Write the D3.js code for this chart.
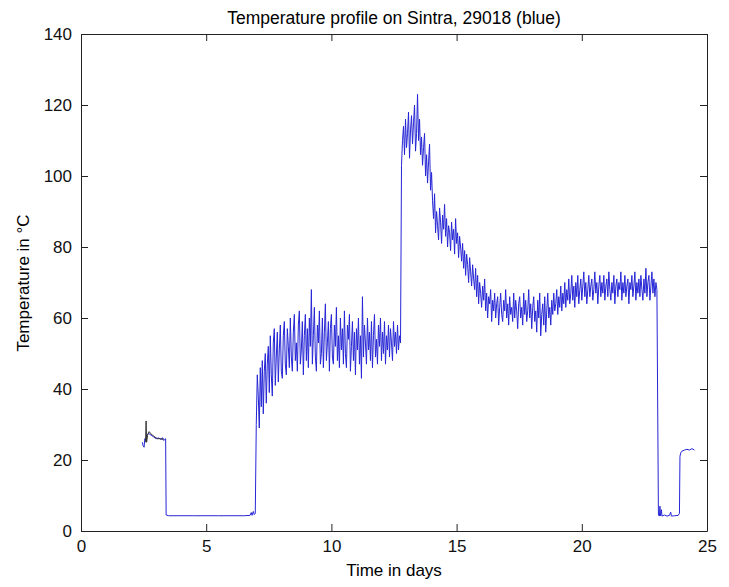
<!DOCTYPE html>
<html>
<head>
<meta charset="utf-8">
<script src="https://cdn.jsdelivr.net/npm/d3@7"></script>
<style>
  body { margin: 0; background: #fff; }
  text { font-family: "Liberation Sans", Arial, sans-serif; }
</style>
</head>
<body>
<script>
let width = 729;
let height = 587;

// axis ranges + ticks
let xTicks = [0, 5, 10, 15, 20, 25];
let yTicks = [0, 20, 40, 60, 80, 100, 120, 140];

// warm-up bit before the long cold plateau (days, degC)
let startBlue = [
  [2.45, 25], [2.48, 24], [2.52, 23.6], [2.55, 26], [2.58, 25.5],
  [2.62, 27], [2.7, 27.5], [2.8, 27], [2.9, 26.5], [3.0, 26],
  [3.1, 26.2], [3.2, 25.8], [3.25, 26.3], [3.3, 25.5], [3.38, 26],
  [3.4, 4.5], [3.5, 4.3], [4.5, 4.3], [5.5, 4.3], [6.5, 4.3],
  [6.75, 4.4], [6.8, 5.2], [6.83, 4.4], [6.88, 5.5], [6.92, 4.6], [6.96, 5]
];

// second sensor trace (black), only visible at the start
let startBlack = [
  [2.58, 25], [2.6, 31], [2.62, 25], [2.66, 27], [2.72, 28], [2.78, 27.5],
  [2.85, 27], [2.95, 26.5], [3.05, 26], [3.15, 26], [3.25, 25.8], [3.3, 26]
];

// main run, one reading every runStep days from runStart
let runStart = 7.0;
let runStep = 0.04;
let runTemps = [
  // 7.0 - 12.76 d
  30, 44, 38, 29, 46, 35, 48, 33, 45, 50,
  36, 47, 52, 39, 55, 44, 38, 53, 57, 41,
  49, 56, 42, 51, 58, 45, 43, 55, 59, 47,
  44, 57, 52, 46, 60, 49, 45, 56, 61, 48,
  53, 45, 58, 62, 47, 51, 59, 44, 55, 61,
  48, 57, 46, 60, 52, 68, 47, 55, 63, 49,
  45, 58, 53, 62, 47, 50, 60, 46, 56, 64,
  48, 53, 59, 45, 57, 61, 49, 47, 58, 52,
  63, 48, 55, 46, 60, 51, 57, 47, 62, 50,
  46, 58, 54, 61, 45, 52, 59, 48, 56, 44,
  57, 51, 60, 47, 55, 43, 66, 49, 58, 53,
  47, 60, 51, 56, 48, 59, 46, 55, 61, 49,
  54, 47, 58, 52, 60, 48, 56, 50, 59, 47,
  55, 51, 58, 49, 57, 53, 48, 59, 52, 56,
  50, 58, 51, 55, 53,
  // 12.8 - 23.0 d
  103, 110, 114, 106, 116, 108, 112, 118, 105, 113,
  117, 109, 115, 120, 107, 112, 123, 110, 116, 106,
  111, 103, 108, 112, 100, 106, 98, 104, 109, 96,
  101, 93, 88, 95, 84, 90, 86, 82, 91, 87,
  81, 89, 85, 92, 83, 88, 80, 86, 84, 79,
  87, 82, 85, 78, 88, 81, 84, 77, 83, 80,
  76, 81, 74, 79, 72, 78, 75, 70, 77, 73,
  69, 75, 71, 68, 74, 66, 72, 64, 70, 67,
  63, 69, 65, 71, 62, 67, 60, 66, 64, 68,
  59, 65, 62, 67, 60, 64, 66, 58, 63, 67,
  61, 59, 65, 62, 68, 60, 64, 58, 66, 61,
  63, 59, 67, 60, 65, 62, 57, 64, 66, 60,
  63, 58, 67, 61, 65, 59, 62, 68, 60, 64,
  57, 63, 66, 59, 62, 56, 65, 60, 67, 55,
  61, 64, 58, 66, 56, 62, 67, 60, 63, 58,
  65, 61, 67, 62, 64, 68, 61, 66, 63, 69,
  62, 67, 64, 70, 63, 68, 65, 71, 64, 67,
  72, 65, 69, 63, 70, 66, 72, 64, 68, 71,
  65, 69, 73, 66, 70, 64, 68, 72, 66, 69,
  71, 65, 68, 73, 67, 70, 64, 69, 72, 66,
  70, 67, 72, 65, 69, 71, 66, 73, 68, 65,
  70, 67, 72, 64, 69, 71, 66, 70, 68, 73,
  65, 70, 67, 72, 66, 69, 71, 64, 70, 68,
  72, 66, 69, 73, 65, 70, 67, 71, 66, 72,
  68, 65, 71, 67, 74, 66, 70, 72, 65, 69,
  73, 67, 71, 66, 70, 68
];

// cool-down and the short tail at the end
let endBlue = [
  [23.06, 4.5], [23.1, 4.2], [23.12, 7], [23.14, 4.3], [23.18, 6],
  [23.2, 4.2], [23.3, 4.5], [23.4, 4.2], [23.5, 4.4], [23.55, 5.3],
  [23.58, 4.2], [23.7, 4.3], [23.85, 4.4], [23.9, 5], [23.92, 21],
  [23.95, 22], [24.0, 22.5], [24.1, 22.8], [24.2, 23], [24.3, 22.8],
  [24.4, 23.2], [24.5, 22.8]
];

let svg = d3
  .select("body")
  .append("svg")
  .attr("width", width)
  .attr("height", height);

svg.append("rect").attr("width", width).attr("height", height).attr("fill", "#fff");

let x = d3.scaleLinear().domain([0, 25]).range([81, 707]);
let y = d3.scaleLinear().domain([0, 140]).range([531, 34]);

let blueData = startBlue
  .concat(runTemps.map((v, i) => [runStart + i * runStep, v]))
  .concat(endBlue);

let line = d3
  .line()
  .x((d) => x(d[0]))
  .y((d) => y(d[1]));

// axes, MATLAB style: ticks point inward on all four sides
let tickLen = 7;

svg
  .append("g")
  .attr("transform", "translate(0,531)")
  .call(d3.axisBottom(x).tickValues(xTicks).tickSize(-tickLen).tickSizeOuter(0).tickPadding(9));

svg
  .append("g")
  .attr("transform", "translate(0,34)")
  .call(d3.axisTop(x).tickValues(xTicks).tickSize(-tickLen).tickSizeOuter(0).tickFormat(""));

svg
  .append("g")
  .attr("transform", "translate(81,0)")
  .call(d3.axisLeft(y).tickValues(yTicks).tickSize(-tickLen).tickSizeOuter(0).tickPadding(9));

svg
  .append("g")
  .attr("transform", "translate(707,0)")
  .call(d3.axisRight(y).tickValues(yTicks).tickSize(-tickLen).tickSizeOuter(0).tickFormat(""));

svg.selectAll(".tick text").attr("font-size", 17).attr("fill", "#111");
svg.selectAll(".domain, .tick line").attr("stroke", "#222");

// the traces
svg
  .append("path")
  .datum(blueData)
  .attr("fill", "none")
  .attr("stroke", "#2626d6")
  .attr("stroke-width", 1)
  .attr("d", line);

svg
  .append("path")
  .datum(startBlack)
  .attr("fill", "none")
  .attr("stroke", "#333")
  .attr("stroke-width", 1)
  .attr("d", line);

// labels
svg
  .append("text")
  .attr("x", 394)
  .attr("y", 24)
  .attr("text-anchor", "middle")
  .attr("font-size", 17.5)
  .text("Temperature profile on Sintra, 29018 (blue)");

svg
  .append("text")
  .attr("x", 394)
  .attr("y", 576)
  .attr("text-anchor", "middle")
  .attr("font-size", 17)
  .text("Time in days");

svg
  .append("text")
  .attr("transform", "translate(29,283) rotate(-90)")
  .attr("text-anchor", "middle")
  .attr("font-size", 17)
  .text("Temperature in °C");
</script>
</body>
</html>
